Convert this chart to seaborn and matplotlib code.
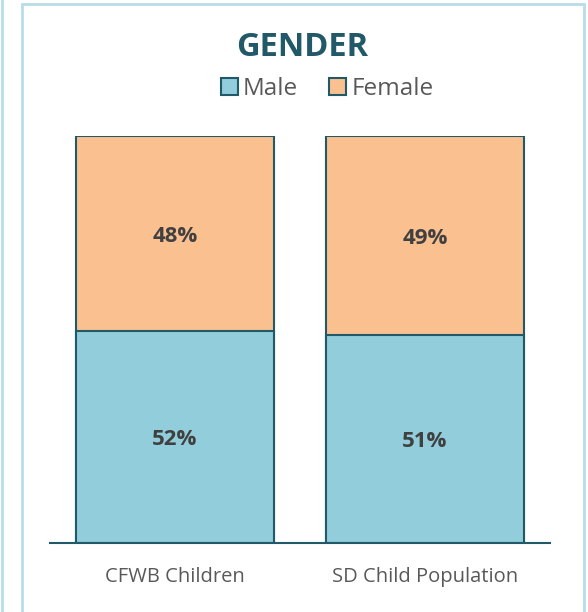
import pandas as pd
import seaborn as sns
import matplotlib.pyplot as plt
from matplotlib.patches import Rectangle, Patch
from matplotlib.lines import Line2D

# data
groups = ["CFWB Children", "SD Child Population"]
male = [0.52, 0.51]
female = [0.48, 0.49]

male_col = "#92CDDC"
female_col = "#FAC090"
edge_col = "#215968"

sns.set_style("white")
plt.rcParams['font.family'] = ['Open Sans', 'DejaVu Sans']

df = pd.DataFrame({"group": groups, "male": male, "female": female})
df["total"] = df["male"] + df["female"]

W, H = 588, 612
fig = plt.figure(figsize=(W / 100, H / 100), dpi=100)
ax = fig.add_axes([50 / W, (H - 543) / H, 500 / W, 407 / H])

sns.barplot(data=df, x="group", y="total", color=female_col, width=0.792,
            edgecolor=edge_col, linewidth=1.5, saturation=1, ax=ax)
sns.barplot(data=df, x="group", y="male", color=male_col, width=0.792,
            edgecolor=edge_col, linewidth=1.5, saturation=1, ax=ax)

ax.set_xlim(-0.5, 1.5)
ax.set_ylim(0, 1.0)
ax.set_xlabel("")
ax.set_ylabel("")
ax.set_yticks([])
sns.despine(ax=ax, left=True)
ax.spines["bottom"].set_color(edge_col)
ax.spines["bottom"].set_linewidth(1.5)
ax.tick_params(axis="x", length=0, pad=17, labelsize=14.5, labelcolor="#595959")

for i in range(len(groups)):
    ax.text(i, male[i] / 2 - 0.006, f"{male[i]:.0%}", ha="center", va="center",
            fontsize=16, fontweight="bold", color="#404040")
    ax.text(i, male[i] + female[i] / 2 - 0.006, f"{female[i]:.0%}", ha="center",
            va="center", fontsize=16, fontweight="bold", color="#404040")

fig.text(302 / W, 1 - 47 / H, "GENDER", ha="center", va="center",
         fontsize=23.5, fontweight="bold", color="#215968")

handles = [Patch(facecolor=male_col, edgecolor=edge_col, linewidth=1.5),
           Patch(facecolor=female_col, edgecolor=edge_col, linewidth=1.5)]
fig.legend(handles, ["Male", "Female"], loc="center", ncol=2,
           bbox_to_anchor=(327 / W, 1 - 89 / H), frameon=False,
           fontsize=17.5, handlelength=0.7, handleheight=0.7,
           handletextpad=0.2, columnspacing=1.3, labelcolor="#595959")

# panel frame
frame = "#B7DDE8"
fig.patches.append(Rectangle((22 / W, -0.05), (584 - 22) / W, 1.05 - 4 / H,
                             transform=fig.transFigure, fill=False,
                             edgecolor=frame, linewidth=2))
fig.lines.append(Line2D([2 / W, 2 / W], [0, 1], transform=fig.transFigure,
                        color=frame, linewidth=2))

fig.savefig("out.png", dpi=100)
